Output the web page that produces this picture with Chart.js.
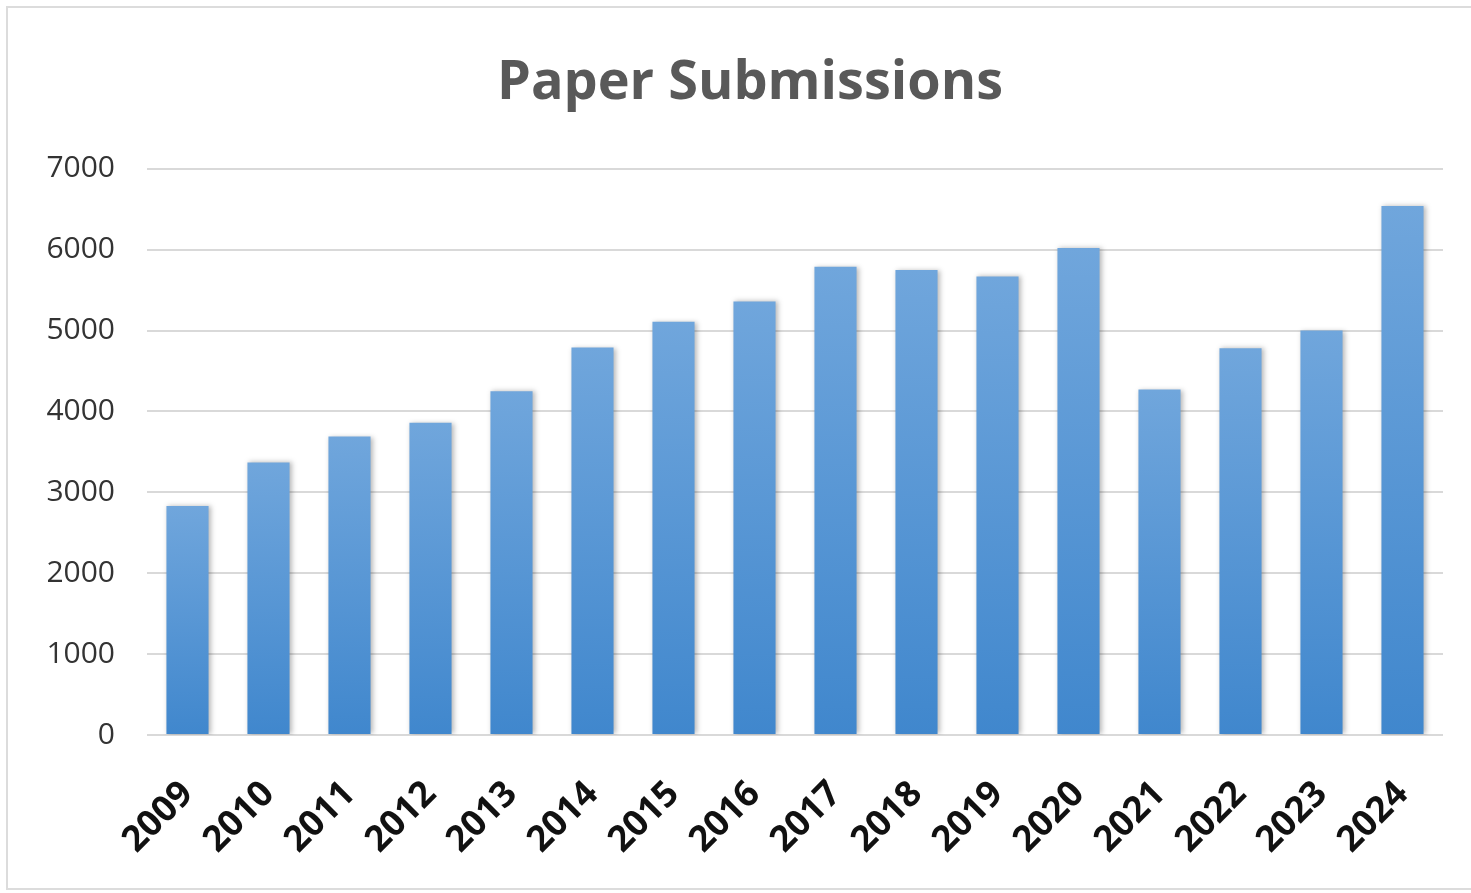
<!DOCTYPE html>
<html>
<head>
<meta charset="utf-8">
<script src="https://cdn.jsdelivr.net/npm/chart.js@4"></script>
<style>
  html, body { margin: 0; padding: 0; background: #ffffff; overflow: hidden; }
  #frame { position: absolute; left: 6px; top: 6px; width: 1480px; height: 884px;
           border: 2px solid #dcdcdc; box-sizing: border-box; }
  #wrap { position: absolute; left: 0; top: 0; width: 1471px; height: 893px; }
</style>
</head>
<body>
<div id="frame"></div>
<div id="wrap"><canvas id="c"></canvas></div>
<script>
const chartTitle = "Paper Submissions";
const years = ["2009","2010","2011","2012","2013","2014","2015","2016","2017","2018","2019","2020","2021","2022","2023","2024"];
const submissions = [2830, 3370, 3690, 3860, 4250, 4790, 5110, 5360, 5790, 5750, 5670, 6020, 4270, 4780, 5000, 6540];
const yTicks = [0, 1000, 2000, 3000, 4000, 5000, 6000, 7000];

function barGradient(ctx) {
  const chart = ctx.chart;
  const ys = chart.scales && chart.scales.y;
  if (!ys || ctx.type !== 'data') return '#5b9bd5';
  const top = ys.getPixelForValue(ctx.raw);
  const bottom = ys.getPixelForValue(0);
  if (!isFinite(top) || !isFinite(bottom) || top === bottom) return '#5b9bd5';
  const g = chart.ctx.createLinearGradient(0, top, 0, bottom);
  g.addColorStop(0, '#70a6dc');
  g.addColorStop(1, '#4087cd');
  return g;
}

const shadowPlugin = {
  id: 'barShadow',
  beforeDatasetsDraw(chart) {
    const c = chart.ctx;
    c.save();
    c.shadowColor = 'rgba(0,0,0,0.28)';
    c.shadowBlur = 5;
    c.shadowOffsetX = 2;
    c.shadowOffsetY = 0;
  },
  afterDatasetsDraw(chart) { chart.ctx.restore(); }
};

// shift the title box so the title is centred where the reference has it
const titleShift = {
  id: 'titleShift',
  afterLayout(chart) {
    if (chart.titleBlock) { chart.titleBlock.left = 57; }
  }
};

new Chart(document.getElementById('c'), {
  type: 'bar',
  data: {
    labels: years,
    datasets: [{
      label: chartTitle,
      data: submissions,
      backgroundColor: barGradient,
      borderWidth: 0,
      categoryPercentage: 1.0,
      barPercentage: 0.52
    }]
  },
  options: {
    responsive: true,
    maintainAspectRatio: false,
    animation: false,
    devicePixelRatio: 1,
    layout: { padding: { left: 0, right: 28, top: 0, bottom: 0 } },
    plugins: {
      legend: { display: false },
      tooltip: { enabled: false },
      title: {
        display: true,
        text: chartTitle,
        color: '#595959',
        font: { family: 'Open Sans', size: 54, weight: 'bold', lineHeight: 1.2 },
        padding: { top: 51, bottom: 53 }
      }
    },
    scales: {
      x: {
        grid: { display: false },
        border: { display: false },
        ticks: {
          color: '#111111',
          font: { family: 'Open Sans', size: 36, weight: 'bold' },
          maxRotation: 45, minRotation: 45,
          padding: 30,
          autoSkip: false
        },
        afterFit(scale) { scale.height = 158; }
      },
      y: {
        min: 0, max: 7000,
        afterBuildTicks(scale) { scale.ticks = yTicks.map(v => ({ value: v })); },
        grid: { color: '#d9d9d9', lineWidth: 2, drawTicks: false },
        border: { display: false },
        ticks: {
          color: '#333333',
          font: { family: 'Open Sans', size: 30 },
          padding: 32,
          callback: (v) => String(v)
        },
        afterFit(scale) { scale.width = 147; }
      }
    }
  },
  plugins: [shadowPlugin, titleShift]
});
</script>
</body>
</html>
